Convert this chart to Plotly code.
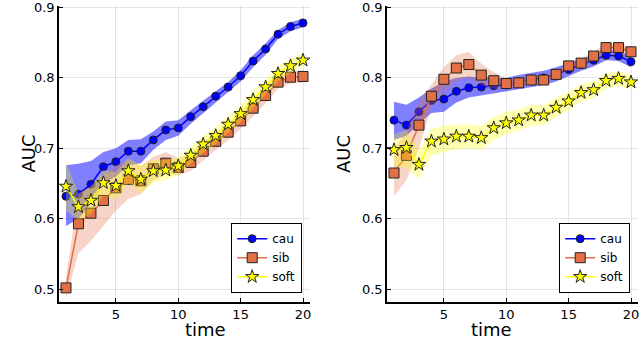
"""AUC over time for cau / sib / soft, two panels with ribbons."""

import plotly.graph_objects as go

time = list(range(1, 21))

# left panel
cau_left = [0.632, 0.635, 0.649, 0.674, 0.681, 0.696, 0.696, 0.712, 0.726, 0.729,
            0.745, 0.759, 0.774, 0.787, 0.803, 0.824, 0.841, 0.862, 0.873, 0.878]
cau_left_lo = [0.590, 0.600, 0.622, 0.650, 0.660, 0.676, 0.679, 0.698, 0.712, 0.718,
               0.735, 0.750, 0.766, 0.780, 0.795, 0.815, 0.833, 0.855, 0.866, 0.872]
cau_left_hi = [0.676, 0.678, 0.682, 0.695, 0.700, 0.712, 0.713, 0.724, 0.738, 0.740,
               0.754, 0.768, 0.781, 0.794, 0.811, 0.832, 0.849, 0.868, 0.879, 0.884]

sib_left = [0.502, 0.593, 0.608, 0.626, 0.644, 0.656, 0.654, 0.671, 0.679, 0.673,
            0.680, 0.696, 0.710, 0.723, 0.739, 0.757, 0.775, 0.794, 0.801, 0.802]
sib_left_lo = [0.487, 0.551, 0.569, 0.590, 0.612, 0.628, 0.635, 0.654, 0.663, 0.662,
               0.668, 0.683, 0.698, 0.711, 0.728, 0.745, 0.764, 0.785, 0.792, 0.793]
sib_left_hi = [0.517, 0.635, 0.647, 0.662, 0.676, 0.684, 0.675, 0.688, 0.695, 0.686,
               0.692, 0.709, 0.722, 0.735, 0.750, 0.769, 0.786, 0.803, 0.810, 0.811]

soft_left = [0.646, 0.617, 0.626, 0.651, 0.647, 0.668, 0.656, 0.668, 0.669, 0.675,
             0.690, 0.706, 0.718, 0.734, 0.749, 0.769, 0.787, 0.806, 0.817, 0.825]
soft_left_lo = [0.612, 0.598, 0.607, 0.633, 0.628, 0.650, 0.636, 0.652, 0.655, 0.662,
                0.678, 0.694, 0.706, 0.722, 0.737, 0.757, 0.776, 0.795, 0.807, 0.816]
soft_left_hi = [0.680, 0.636, 0.645, 0.669, 0.666, 0.686, 0.676, 0.684, 0.683, 0.688,
                0.702, 0.718, 0.730, 0.746, 0.761, 0.781, 0.798, 0.817, 0.827, 0.834]

# right panel
cau_right = [0.740, 0.733, 0.752, 0.768, 0.770, 0.781, 0.786, 0.787, 0.789, 0.790,
             0.794, 0.797, 0.800, 0.805, 0.812, 0.819, 0.825, 0.832, 0.831, 0.823]
cau_right_lo = [0.712, 0.718, 0.735, 0.750, 0.752, 0.765, 0.772, 0.775, 0.778, 0.780,
                0.784, 0.787, 0.790, 0.795, 0.803, 0.810, 0.816, 0.825, 0.824, 0.815]
cau_right_hi = [0.766, 0.762, 0.772, 0.785, 0.795, 0.800, 0.802, 0.800, 0.800, 0.800,
                0.804, 0.807, 0.810, 0.815, 0.821, 0.828, 0.834, 0.839, 0.838, 0.831]

sib_right = [0.665, 0.690, 0.733, 0.774, 0.798, 0.814, 0.819, 0.804, 0.796, 0.792,
             0.793, 0.797, 0.797, 0.805, 0.817, 0.821, 0.831, 0.843, 0.843, 0.837]
sib_right_lo = [0.632, 0.655, 0.700, 0.758, 0.780, 0.795, 0.800, 0.790, 0.785, 0.784,
                0.786, 0.790, 0.791, 0.799, 0.811, 0.815, 0.825, 0.837, 0.837, 0.831]
sib_right_hi = [0.698, 0.725, 0.766, 0.790, 0.815, 0.832, 0.837, 0.820, 0.808, 0.800,
                0.800, 0.804, 0.803, 0.811, 0.823, 0.827, 0.837, 0.849, 0.849, 0.843]

soft_right = [0.698, 0.701, 0.677, 0.710, 0.713, 0.717, 0.717, 0.715, 0.729, 0.736,
              0.740, 0.747, 0.747, 0.758, 0.767, 0.779, 0.783, 0.796, 0.799, 0.794]
soft_right_lo = [0.675, 0.672, 0.657, 0.690, 0.695, 0.699, 0.700, 0.698, 0.712, 0.720,
                 0.725, 0.732, 0.733, 0.744, 0.754, 0.767, 0.771, 0.785, 0.789, 0.784]
soft_right_hi = [0.720, 0.726, 0.697, 0.728, 0.732, 0.734, 0.734, 0.732, 0.745, 0.752,
                 0.755, 0.762, 0.761, 0.772, 0.780, 0.791, 0.795, 0.807, 0.809, 0.804]

FONT = "DejaVu Sans"
W, H = 640, 346

# name -> marker symbol, marker size, line colour, ribbon colour
STYLES = {
    "cau": ("circle", 8, "#0000FF", "rgba(0,0,255,0.5)"),
    "sib": ("square", 10, "#E26F46", "rgba(226,111,70,0.3)"),
    "soft": ("star", 10, "#FFFF00", "rgba(255,255,0,0.3)"),
}


def add_series(fig, name, y, lo, hi, xaxis, yaxis, legend):
    symbol, size, color, fill = STYLES[name]
    # ribbon
    fig.add_trace(go.Scatter(
        x=time + time[::-1], y=hi + lo[::-1],
        fill="toself", fillcolor=fill, line=dict(width=0),
        mode="lines", hoverinfo="skip", showlegend=False,
        xaxis=xaxis, yaxis=yaxis,
    ))
    fig.add_trace(go.Scatter(
        x=time, y=y, name=name, mode="lines+markers",
        line=dict(color=color, width=1.5),
        marker=dict(symbol=symbol, size=size, color=color,
                    line=dict(color="#222222", width=1)),
        xaxis=xaxis, yaxis=yaxis, legend=legend,
    ))


def generate_chart():
    fig = go.Figure()

    add_series(fig, "cau", cau_left, cau_left_lo, cau_left_hi, "x", "y", "legend")
    add_series(fig, "sib", sib_left, sib_left_lo, sib_left_hi, "x", "y", "legend")
    add_series(fig, "soft", soft_left, soft_left_lo, soft_left_hi, "x", "y", "legend")

    add_series(fig, "cau", cau_right, cau_right_lo, cau_right_hi, "x2", "y2", "legend2")
    add_series(fig, "sib", sib_right, sib_right_lo, sib_right_hi, "x2", "y2", "legend2")
    add_series(fig, "soft", soft_right, soft_right_lo, soft_right_hi, "x2", "y2", "legend2")

    axis_common = dict(
        showline=True, linecolor="black", linewidth=1.5, mirror=False,
        ticks="inside", ticklen=4, tickcolor="black", tickwidth=1,
        showgrid=True, gridcolor="rgba(0,0,0,0.1)", gridwidth=1,
        zeroline=False, automargin=False, ticklabeloverflow="allow",
        tickfont=dict(family=FONT, size=13, color="black"),
    )
    x_common = dict(axis_common, range=[0.44, 20.56], tickvals=[5, 10, 15, 20])
    y_common = dict(axis_common, range=[0.482, 0.902],
                    tickvals=[0.5, 0.6, 0.7, 0.8, 0.9], tickformat=".1f")

    legend_common = dict(
        y=1 - 293 / H, xanchor="right", yanchor="bottom",
        bordercolor="black", borderwidth=1.2, bgcolor="white",
        font=dict(family=FONT, size=12, color="black"),
        tracegroupgap=0, itemwidth=30,
    )

    y_dom = [1 - 302 / H, 1 - 6 / H]
    fig.update_layout(
        width=W, height=H,
        margin=dict(l=0, r=0, t=0, b=0, autoexpand=False),
        plot_bgcolor="white", paper_bgcolor="white",
        xaxis=dict(x_common, domain=[59 / W, 310 / W], anchor="y"),
        yaxis=dict(y_common, domain=y_dom, anchor="x"),
        xaxis2=dict(x_common, domain=[387 / W, 638 / W], anchor="y2"),
        yaxis2=dict(y_common, domain=y_dom, anchor="x2"),
        legend=dict(legend_common, x=302 / W),
        legend2=dict(legend_common, x=630 / W),
        showlegend=True,
    )

    # axis titles
    title_font = dict(family=FONT, size=18, color="black")
    for cx in (184 / W, 513 / W):
        fig.add_annotation(text="time", x=cx, y=1 - 341 / H, xref="paper", yref="paper",
                           showarrow=False, font=title_font, borderpad=0)
    for cx in (16 / W, 343 / W):
        fig.add_annotation(text="AUC", x=cx, y=1 - 154 / H, xref="paper", yref="paper",
                           showarrow=False, font=title_font, textangle=-90, borderpad=0)

    # page body has an 8px default margin; drop it so the figure fills the window
    fig.write_html("out.html", config={"displayModeBar": False},
                   post_script="document.body.style.margin='0';")
    return fig


if __name__ == "__main__":
    generate_chart()
